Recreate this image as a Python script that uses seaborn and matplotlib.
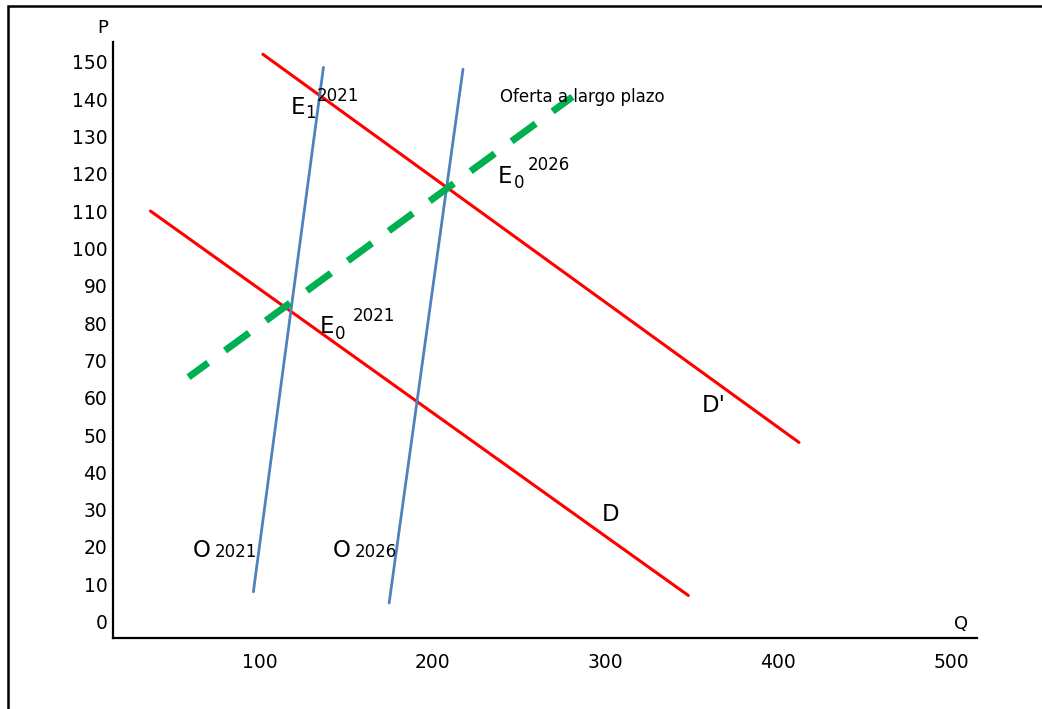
import pandas as pd
import matplotlib.pyplot as plt
import matplotlib.patches as mpatches
import seaborn as sns

# curve end points (Q, P)
demand_q = [37, 348]
demand_p = [110, 7]
demand2_q = [102, 412]
demand2_p = [152, 48]
supply21_q = [96.5, 137]
supply21_p = [8, 148.5]
supply26_q = [175, 217.7]
supply26_p = [5, 148]
longrun_q = [59, 281]
longrun_p = [65.5, 140.6]

x_ticks = [100, 200, 300, 400, 500]
y_ticks = list(range(0, 160, 10))

sns.set_style("white")
plt.rcParams['font.family'] = ['DejaVu Sans']
plt.rcParams['text.color'] = 'black'
plt.rcParams['xtick.color'] = 'black'
plt.rcParams['ytick.color'] = 'black'

fig = plt.figure(figsize=(10.42, 7.09), dpi=100)
ax = fig.add_axes([0.1084, 0.1006, 0.8292, 0.8402])

def draw(q, p, color, lw, **kw):
    df = pd.DataFrame({'Q': q, 'P': p})
    sns.lineplot(data=df, x='Q', y='P', color=color, linewidth=lw,
                 sort=False, ax=ax, **kw)

draw(demand_q, demand_p, '#FF0000', 2.2)
draw(demand2_q, demand2_p, '#FF0000', 2.2)
draw(supply21_q, supply21_p, '#4F81BD', 2.0)
draw(supply26_q, supply26_p, '#4F81BD', 2.0)
draw(longrun_q, longrun_p, '#00B050', 5.0,
     linestyle=(0.8, (4.3, 3.0)), dash_capstyle='butt')

ax.set_xlim(15.3, 514.9)
ax.set_ylim(-4.3, 155.3)
ax.set_xticks(x_ticks)
ax.set_yticks(y_ticks)
ax.tick_params(length=0, labelsize=13.5, labelcolor='black')
ax.tick_params(axis='y', pad=4)
ax.tick_params(axis='x', pad=11)
ax.set_xlabel('')
ax.set_ylabel('')
sns.despine(ax=ax)
for s in ['left', 'bottom']:
    ax.spines[s].set_linewidth(1.6)
    ax.spines[s].set_color('black')

# labels: (text, Q, P, size)
labels = [
    ('E', 118.2, 136.0, 16.5), ('1', 126.3, 134.9, 12), ('2021', 133.3, 139.5, 12),
    ('E', 237.9, 117.5, 16.5), ('0', 247.2, 116.2, 12), ('2026', 255.3, 120.9, 12),
    ('E', 135.0, 77.3, 16.5), ('0', 143.7, 75.7, 12), ('2021', 154.1, 80.6, 12),
    ("D'", 355.9, 56.2, 16.5),
    ('D', 298.1, 27.0, 16.5),
    ('O', 61.6, 17.3, 16.5), ('2021', 74.3, 17.3, 12),
    ('O', 142.5, 17.3, 16.5), ('2026', 155.3, 17.3, 12),
    ('Oferta a largo plazo', 239.1, 139.2, 12),
    ('P', 6.1, 157.7, 13),
    ('Q', 501.6, -2.0, 13),
]
for txt, q, p, size in labels:
    ax.text(q, p, txt, fontsize=size, ha='left', va='baseline',
            color='black', clip_on=False)

# frame around the whole picture
frame = mpatches.Rectangle((0.0077, -0.2), 1.2, 1.1915, fill=False,
                           edgecolor='black', linewidth=1.8,
                           transform=fig.transFigure, figure=fig)
fig.patches.append(frame)

fig.savefig('out.png', dpi=100)
